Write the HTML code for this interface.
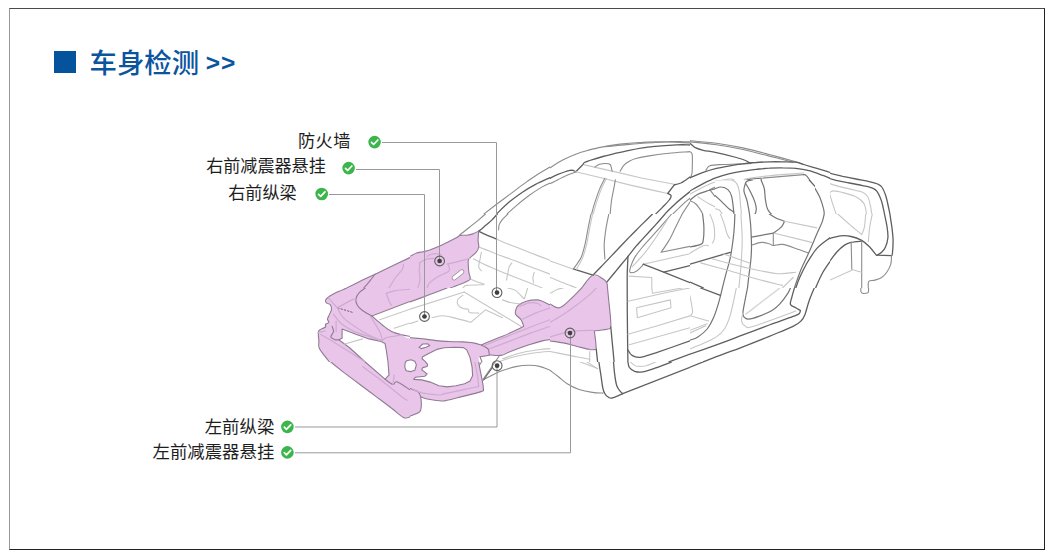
<!DOCTYPE html>
<html lang="zh-CN">
<head>
<meta charset="utf-8">
<title>车身检测</title>
<style>
html,body{margin:0;padding:0;background:#fff;}
body{width:1059px;height:560px;overflow:hidden;position:relative;font-family:"Liberation Sans","Noto Sans CJK SC",sans-serif;}
#frame{position:absolute;left:9px;top:8px;width:1034px;height:540px;border-top:1px solid #4a4a4a;border-left:1px solid #989898;border-right:1px solid #222;border-bottom:1px solid #222;}
#sq{position:absolute;left:54px;top:51px;width:22px;height:22px;background:#05539d;}
#title{position:absolute;left:89.5px;top:44px;height:40px;line-height:40px;font-size:27.4px;color:#0a559e;white-space:nowrap;font-weight:500;}
#gt{font-weight:700;font-size:24.5px;letter-spacing:1px;position:relative;left:-1px;top:-2.5px;}
svg{position:absolute;left:0;top:0;}
.lbl{font-size:17px;fill:#1e1e1e;font-family:"Liberation Sans","Noto Sans CJK SC",sans-serif;}
.con{fill:none;stroke:#999;stroke-width:1;}
.d{fill:none;stroke:#5e5e5e;stroke-width:1.3;stroke-linecap:round;stroke-linejoin:round;}
.n{fill:none;stroke:#747474;stroke-width:1.2;stroke-linecap:round;stroke-linejoin:round;}
.m{fill:none;stroke:#8c8c8c;stroke-width:1.1;stroke-linecap:round;stroke-linejoin:round;}
.l{fill:none;stroke:#c6c6c6;stroke-width:1.1;stroke-linecap:round;stroke-linejoin:round;}
.pk{fill:#e9c5ea;stroke:none;}
.pl{fill:none;stroke:#cfaad2;stroke-width:1.2;stroke-linecap:round;stroke-linejoin:round;}
.pd{fill:none;stroke:#907a93;stroke-width:1.1;stroke-linecap:round;stroke-linejoin:round;}
</style>
</head>
<body>
<div id="frame"></div>
<div id="sq"></div>
<div id="title">车身检测 <span id="gt">&gt;&gt;</span></div>
<svg width="1059" height="560" viewBox="0 0 1059 560">
<!-- highlighted (pink) structural parts -->
<g id="pink">
<path class="pk" fill-rule="evenodd" d="
M478.7,231.2 L473.5,233.6 466.8,235.2 460.2,235.4 456.3,237.8 443,244.4 429.8,250 423.2,251.7 416.6,253 410,256.8 389,267.5 375.1,274.2 362.5,280.1 346.7,288 336.1,292.6 328.2,297.3 325.5,300.6 326.8,303.2 330.2,304.5 331.5,309.2 329.5,314.4 327.5,319.1 328.8,322.4 325.5,324.4 325.5,327 320.2,329.6 318.3,332.3 318.9,340.9 319.6,348.8 323,355 330.8,362
L344,372.6 359.9,384.5 375.8,396.4 391.6,408.3 403.5,417.5 410,416.6 419.3,412.2 421.2,407 420.8,397 427.2,399 441.7,401 447,400.3 462.9,396.4 476.1,393.1 482.7,391.1 483.6,389.1 482.5,380 480.7,371.4 478.5,357.4 489,355.6
L501.2,355.4 510.5,351.5 529,344.8 542.2,340.9 550,340 563.2,342.9 576.4,346.2 589.7,349.5 596.3,349.5 595.6,340.9 594.3,331 608.2,329 610.8,326.3 610.2,314.4 608.8,301.2 607.5,288 606.8,282.7 602.9,278.8 593,275.1
L581.7,288 569.8,299.9 563,305.5 559.3,307.6 553,306.3 548,304.3 541,301.3 536.9,299.9 526.3,301.2 518.4,305.2 515.8,309.8 515.8,314.4 521,319.7 523.7,326.3 515.8,330.3 502.5,336.3 489.3,341.5 480.7,345.1
L473.2,343 460.3,341.9 438.9,340.8 417.4,339.2 406.7,338.1 402.2,334.9 391.6,331.6 382.4,325 371.6,315.6 410,301.4 429.8,294.4 447,288.2 455,285.6 466.8,281.4 470.2,278.8 468.8,272.2 468.2,261.6 469.5,258.3 476.1,252.3 478.7,247 478.1,240.4 Z
M342.1,329 L355.9,334.3 369.1,338.9 381,341.5 385,343.5 386.3,350.1 388,362 389,375.2 385,379.2 365.2,362 349.3,347.5 338.7,339.8 342.1,338.2 Z
M422.3,356.9 L428.2,353.7 436.7,349.4 444.2,347.8 455,347.3 463.5,347.6 466.7,349.9 470,357.4 472.1,367.1 472.6,375.7 470,381 464.6,383.7 456,385.8 447.4,386.9 438.9,385.8 430.3,382.1 421.7,379.9 413.7,379.4 415.3,377.3 424.9,376.2 427.1,374 423.9,371.4 421.7,369.8 422.8,367.6 427.1,366.5 427.6,364.4 424.9,361.2 422.3,359 Z
M406.7,360.7 L411,359.8 414.8,361.2 416.4,364.9 414.8,370.3 411,371.6 406.2,370.8 404.8,367.1 405.1,362.8 Z
M419,347.3 L422.8,344 427.6,343.7 429.8,345.6 426,347.3 421.2,348.6 Z
"/>
<path class="pd" d="M342.1,329 L355.9,334.3 369.1,338.9 381,341.5 385,343.5 386.3,350.1 388,362 389,375.2 385,379.2 365.2,362 349.3,347.5 338.7,339.8 342.1,338.2 Z"/>
<path class="pd" d="M422.3,356.9 L428.2,353.7 436.7,349.4 444.2,347.8 455,347.3 463.5,347.6 466.7,349.9 470,357.4 472.1,367.1 472.6,375.7 470,381 464.6,383.7 456,385.8 447.4,386.9 438.9,385.8 430.3,382.1 421.7,379.9 413.7,379.4 415.3,377.3 424.9,376.2 427.1,374 423.9,371.4 421.7,369.8 422.8,367.6 427.1,366.5 427.6,364.4 424.9,361.2 422.3,359 Z"/>
<path class="pd" d="M406.7,360.7 L411,359.8 414.8,361.2 416.4,364.9 414.8,370.3 411,371.6 406.2,370.8 404.8,367.1 405.1,362.8 Z"/>
<path class="pd" d="M419,347.3 L422.8,344 427.6,343.7 429.8,345.6 426,347.3 421.2,348.6 Z"/>
</g>
<!-- car body line art -->
<g id="car">
<defs><clipPath id="c1"><rect x="690" y="140" width="140" height="40"/><rect x="690" y="180" width="25" height="34"/><rect x="815" y="180" width="15" height="34"/></clipPath><clipPath id="c2"><rect x="830" y="140" width="140" height="74"/></clipPath><clipPath id="c3"><rect x="550" y="140" width="140" height="74"/></clipPath><clipPath id="c4"><rect x="410" y="140" width="140" height="74"/></clipPath><clipPath id="c5"><rect x="410" y="214" width="140" height="74"/></clipPath><clipPath id="c6"><rect x="550" y="214" width="140" height="74"/></clipPath><clipPath id="c7"><rect x="690" y="214" width="140" height="74"/></clipPath><clipPath id="c8"><rect x="830" y="214" width="140" height="74"/></clipPath><clipPath id="c9"><rect x="830" y="288" width="140" height="74"/></clipPath><clipPath id="c10"><rect x="690" y="288" width="140" height="74"/></clipPath><clipPath id="c11"><rect x="550" y="288" width="140" height="74"/></clipPath><clipPath id="c12"><rect x="410" y="288" width="140" height="74"/></clipPath><clipPath id="c13"><rect x="270" y="288" width="140" height="74"/></clipPath><clipPath id="c14"><rect x="270" y="362" width="140" height="74"/></clipPath><clipPath id="c15"><rect x="410" y="362" width="140" height="74"/></clipPath><clipPath id="c16"><rect x="550" y="362" width="140" height="74"/></clipPath><clipPath id="c17"><rect x="270" y="214" width="140" height="74"/></clipPath><clipPath id="c18"><rect x="690" y="362" width="140" height="74"/></clipPath><clipPath id="c19"><rect x="715" y="180" width="100" height="34"/></clipPath></defs>
<g clip-path="url(#c1)">
<path class="m" d="M690,140.7C694.4,141.1 707.6,142.1 716.4,143.3C725.3,144.5 734.1,146.1 742.9,147.9C751.7,149.8 760.5,152.2 769.3,154.5C778.1,156.9 790,160.2 795.8,161.8C801.5,163.5 802.4,164 803.7,164.5"/>
<path class="m" d="M690,141.9C694.4,142.3 707.6,143.5 716.4,144.8C725.3,146 734.1,147.6 742.9,149.5C751.7,151.4 760.9,154 769.3,156.1C777.7,158.2 789.1,161.2 793.1,162.2"/>
<path class="d" d="M690,143.3C690.9,144 693.1,146.5 695.3,147.7C697.5,148.8 699.7,149.5 703.2,150.3C706.7,151.1 710.9,151.4 716.4,152.6C721.9,153.7 731.4,156.1 736.3,157.5C741.1,158.8 743.1,159.5 745.5,160.5C747.9,161.5 749.9,163 750.8,163.5"/>
<path class="m" d="M705.9,170.4C706.5,169.6 707,166.8 709.8,165.8C712.7,164.8 717.5,164.8 723,164.5C728.6,164.1 738.3,164 742.9,163.8C747.5,163.6 749.5,163.6 750.8,163.5"/>
<path class="m" d="M690,151.9C690.3,152.1 691.2,152.1 691.6,153C692,153.8 692.3,153.8 692.4,157.2C692.4,160.5 692.4,169.5 692,173C691.6,176.6 690.3,177.5 690,178.3"/>
<path class="d" d="M690,177.7C692.2,176.8 698.8,173.9 703.2,172.4C707.6,170.8 712,169.5 716.4,168.4C720.8,167.3 725.3,166.6 729.7,165.8C734.1,165 738.5,164.3 742.9,163.8C747.3,163.2 751.7,162.8 756.1,162.5C760.5,162.1 764.9,161.9 769.3,161.8C773.7,161.7 778.1,161.7 782.5,161.8C786.9,161.9 792.2,161.8 795.8,162.2C799.3,162.7 800.2,163.4 803.7,164.5C807.2,165.5 812.5,167.1 816.9,168.4C821.3,169.7 827.8,171.7 830,172.4"/>
<path class="d" d="M690,190.9C692.2,189.7 698.8,185.8 703.2,183.6C707.6,181.4 712,179.3 716.4,177.7C720.8,176 725.3,174.8 729.7,173.7C734.1,172.6 738.5,171.8 742.9,171.1C747.3,170.3 751.7,169.8 756.1,169.3C760.5,168.9 764.9,168.4 769.3,168.2C773.7,167.9 778.1,167.7 782.5,167.8C786.9,167.8 791.4,167.8 795.8,168.3C800.2,168.8 804.6,169.5 809,170.7C813.4,171.8 818.7,173.9 822.2,175.2C825.7,176.4 828.7,177.8 830,178.3"/>
<path class="l" d="M690,194.2C692.2,193 698.8,189 703.2,186.9C707.6,184.8 712,183 716.4,181.6C720.8,180.3 726.8,179.3 729.7,179C732.5,178.7 732.5,178.7 733.6,179.7C734.7,180.7 735.4,181.9 736.3,184.9C737.2,188 738.3,193.3 738.9,198.2C739.6,203 740,211.3 740.2,213.9"/>
<path class="l" d="M742.2,213.9C742,210.4 741,197.9 740.9,192.9C740.8,187.8 741,185.8 741.6,183.6C742.1,181.4 742.9,180.5 744.2,179.7C745.5,178.8 745.3,179 749.5,178.3C753.7,177.7 760.3,176.6 769.3,175.7C778.4,174.8 798,173.5 803.7,173"/>
<path class="n" d="M744.2,184.9C744.4,184.3 744.6,181.9 745.5,181C746.4,180 747.1,179.7 749.5,179.3C751.9,178.8 758.3,178.5 760.1,178.3C760.3,178.6 760.7,177.7 761.4,179.7C762,181.6 763.3,186.3 764,190.2C764.8,194.2 765.1,199.9 766,203.5C766.9,207 768.3,209.6 769.3,211.4C770.3,213.1 771.5,213.5 772,213.9"/>
<path class="n" d="M744.9,183.6C745.4,185.2 747,189.8 748.2,192.9C749.4,196 751,198.6 752.1,202.1C753.2,205.6 754.3,211.9 754.8,213.9"/>
<path class="m" d="M760.1,178.3L803.7,174.6"/>
<path class="n" d="M803.7,174.6C804.1,174.8 804.8,174 806.3,175.7C807.9,177.4 810.7,181.4 812.9,184.9C815.1,188.5 817.8,192.9 819.6,196.8C821.3,200.8 822.8,205.9 823.5,208.7C824.3,211.6 824.1,213 824.2,213.9"/>
<path class="m" d="M709.8,189.6C710.9,189.1 714.2,187.3 716.4,186.9C718.6,186.6 720.8,186.6 723,187.6C725.3,188.6 727.9,190.5 729.7,192.9C731.4,195.3 733.1,199 733.6,202.1C734.2,205.2 733.1,209.8 733,211.4"/>
<path class="m" d="M709.8,189.6C710.9,191 714,195.4 716.4,198.2C718.9,200.9 721.6,203.9 724.4,206.1C727.1,208.3 731.5,210.5 733,211.4"/>
<path class="m" d="M690,200.8C690.9,201.3 693.5,201.9 695.3,203.5C697.1,205 699.4,208.3 700.6,210.1C701.8,211.8 702.2,213.3 702.6,213.9"/>
<path class="n" d="M690,200.2C691.3,199.2 694.8,195.8 697.9,194.2C701,192.6 705.6,191.4 708.5,190.5C711.4,189.6 714,189.2 715.1,188.9"/>
<path class="l" d="M697.9,196.8C699.7,197.9 705,201.5 708.5,203.5C712,205.4 717.3,207.9 719.1,208.7"/>
</g>
<g clip-path="url(#c2)">
<path class="d" d="M803,163.8C805.3,164.6 811.9,166.9 816.3,168.4C820.7,170 825.1,171.7 829.5,173C833.9,174.4 838.3,175.4 842.7,176.4C847.1,177.3 851.5,178.1 855.9,179C860.3,179.9 865.4,180.8 869.1,181.6C872.9,182.5 876.2,183.3 878.4,184.3C880.6,185.3 881,185.6 882.2,187.5C883.4,189.3 884.8,192.9 885.7,195.5C886.6,198.2 887,200.4 887.7,203.5C888.4,206.5 889.5,212.2 889.9,213.9"/>
<path class="d" d="M770,167.8C772.2,167.7 778.8,167.4 783.2,167.5C787.6,167.6 792,167.7 796.4,168.4C800.8,169.1 805.3,170.4 809.7,171.7C814.1,173 818.5,174.9 822.9,176.4C827.3,177.8 831.7,179.2 836.1,180.3C840.5,181.4 844.9,182.1 849.3,183C853.7,183.8 858.6,184.7 862.5,185.6C866.5,186.5 870.6,187.2 873.1,188.3C875.6,189.3 876.1,190.2 877.3,191.8C878.6,193.5 879.6,196.2 880.4,198.2C881.2,200.1 881.6,200.8 882.2,203.5C882.9,206.1 884.1,212.2 884.5,213.9"/>
<path class="l" d="M808.3,175C810.8,176 818.3,179.2 822.9,181C827.5,182.7 831.7,184.3 836.1,185.6C840.5,186.9 844.9,187.8 849.3,188.9C853.7,190 859.5,190.9 862.5,192.2C865.6,193.5 866.5,194.5 867.8,196.8C869.1,199.2 869.8,203.3 870.5,206.1C871.1,208.9 871.6,212.6 871.8,213.9"/>
<path class="l" d="M829.5,192.9C830.2,192.5 831,190.9 833.5,190.9C835.9,190.9 840.3,191.9 844,192.9C847.8,193.9 852.6,195.1 855.9,196.8C859.2,198.6 862.1,200.6 863.9,203.5C865.6,206.3 866.1,212.2 866.5,213.9"/>
<path class="l" d="M829.5,192.9C829.9,194.4 831,198.6 832.1,202.1C833.2,205.6 835.4,211.9 836.1,213.9"/>
</g>
<g clip-path="url(#c3)">
<path class="m" d="M550,167.8C552.2,166.4 558.8,162.1 563.2,159.8C567.6,157.5 572,155.5 576.4,153.9C580.8,152.2 585.3,151.1 589.7,149.9C594.1,148.7 598.5,147.8 602.9,146.9C607.3,146 611.7,145.2 616.1,144.6C620.5,144 624.9,143.7 629.3,143.3C633.7,142.9 638.1,142.6 642.5,142.4C646.9,142.1 651.4,142 655.8,141.9C660.2,141.7 664.6,141.6 669,141.6C673.4,141.5 678.7,141.5 682.2,141.6C685.7,141.6 688.7,141.8 690,141.9"/>
<path class="m" d="M605.5,146.6C607.3,146.4 612.1,145.9 616.1,145.6C620.1,145.2 624.9,144.7 629.3,144.4C633.7,144 638.1,143.6 642.5,143.3C646.9,143 651.4,142.7 655.8,142.5C660.2,142.3 663.3,141.9 669,142C674.7,142 686.5,142.8 690,142.9"/>
<path class="d" d="M550,178.3C551.3,177.7 555.3,175.5 557.9,174.4C560.6,173.2 563.6,172.2 565.9,171.5C568.2,170.8 570.2,170.1 571.8,170.1C573.5,170.2 575.1,171.5 575.8,171.7L583,164.5C583.3,164.1 583.3,163.1 584.4,162.5C585.5,161.8 586.6,161.5 589.7,160.5C592.7,159.5 598.5,157.7 602.9,156.5C607.3,155.3 611.7,154.3 616.1,153.2C620.5,152.2 624.9,151.2 629.3,150.3C633.7,149.4 638.1,148.6 642.5,147.9C646.9,147.3 651.4,146.8 655.8,146.3C660.2,145.9 664.6,145.6 669,145.3C673.4,145 678.7,144.7 682.2,144.6C685.7,144.6 688.7,145 690,145"/>
<path class="m" d="M550,183.6C551.3,183 555.3,181 557.9,179.7C560.6,178.3 563.2,176.8 565.9,175.7C568.5,174.5 572,173.4 573.8,172.8C575.6,172.2 576,172.1 576.4,172"/>
<path class="l" d="M575.8,171.7L602.9,178.3 629.3,184.9 655.8,190.9 667.7,193.5"/>
<path class="l" d="M584.4,164.9L612.1,171.1 642.5,178.3 674.3,184.3"/>
<path class="m" d="M594.9,167.1C595.6,166.7 597.2,165.1 598.9,164.5C600.7,163.9 603.7,163.5 605.5,163.5C607.4,163.5 609.2,163.6 610.2,164.5C611.1,165.3 611.1,167.3 611.5,168.4C611.8,169.5 612,170.6 612.1,171.1"/>
<path class="m" d="M604.9,178.3C604.1,179.9 601.7,184.3 600.2,187.6C598.8,190.9 597.5,194.6 596.3,198.2C595.1,201.7 593.7,206.1 593,208.7C592.2,211.4 591.9,213 591.6,213.9"/>
<path class="l" d="M606.4,178.6C605.7,180.1 603.3,184.6 601.8,187.9C600.4,191.2 599.1,194.9 597.9,198.4C596.6,202 595.3,206.4 594.6,209C593.8,211.6 593.4,213.1 593.2,213.9"/>
<path class="m" d="M615.4,179.7C615.1,181.4 614.1,186.7 613.5,190.2C612.8,193.8 612,196.9 611.5,200.8C610.9,204.8 610.4,211.7 610.2,213.9"/>
<path class="m" d="M620.1,171.1C620.7,170.1 622.5,166.8 624,165.1C625.6,163.5 627.3,162.3 629.3,161.2C631.3,160.1 632.6,159.4 635.9,158.5C639.2,157.6 643.6,156.7 649.1,155.9C654.7,155 662.2,153.9 669,153.2C675.8,152.5 686.5,151.9 690,151.6"/>
<path class="d" d="M674.3,184.9L667.7,193.5C668.2,193.9 670.6,194.5 671,195.5C671.3,196.5 671.1,197.5 669.6,199.5C668.2,201.5 664.7,205 662.4,207.4C660.1,209.8 656.9,212.8 655.8,213.9"/>
<path class="d" d="M674.3,184.9C675.4,184.6 678.9,183.8 680.9,183C682.9,182.1 684.6,180.7 686.2,179.7C687.7,178.7 689.4,177.5 690,177"/>
<path class="d" d="M665,213.9C666.8,212.2 671.4,207.2 675.6,203.5C679.8,199.7 687.6,193.5 690,191.6"/>
<path class="m" d="M672.9,213.9C674.5,212.4 679.4,207.4 682.2,204.8C685,202.2 688.7,199.3 690,198.2"/>
<path class="m" d="M682.2,213.9L690,202.1"/>
</g>
<g clip-path="url(#c4)">
<path class="m" d="M484,213.9C486,212.4 491.7,208 495.9,204.8C500.1,201.6 504.7,198.2 509.1,194.9C513.6,191.6 518,188.1 522.4,184.9C526.8,181.8 531,178.7 535.6,175.7C540.2,172.7 547.6,168.5 550,167.1"/>
<path class="d" d="M496.6,213.9C498.7,211.9 504.9,205.7 509.1,202.1C513.4,198.5 518,195.2 522.4,192.2C526.8,189.2 531,186.7 535.6,184.3C540.2,181.9 547.6,178.8 550,177.7"/>
<path class="m" d="M507.2,213.9C508.6,212.6 512.1,209.2 515.8,206.1C519.4,203 524.6,198.7 529,195.5C533.4,192.3 538.7,189 542.2,186.9C545.7,184.8 548.7,183.6 550,183"/>
</g>
<g clip-path="url(#c5)">
<path class="m" d="M459.6,235.2C461.2,233.8 466.3,229.8 469.5,227.2C472.7,224.7 476.1,222.2 478.7,219.9C481.4,217.7 484.3,215 485.4,214"/>
<path class="d" d="M478.7,231.2C480.1,230.1 484.5,226.4 486.7,224.6C488.9,222.7 490.2,221.7 492,219.9C493.7,218.2 496.4,215 497.3,214"/>
<path class="m" d="M498.6,229.9C498.7,229 498.6,226.3 499.2,224.6C499.9,222.8 501.1,221.1 502.5,219.3C504,217.5 506.9,214.9 507.8,214"/>
<path class="d" d="M478.7,231.2C479.6,231.6 481.1,232.5 484,233.8C487,235.2 494.5,238.2 496.6,239.1"/>
<path class="l" d="M496.6,239.1C498,239.8 502,241.8 505.2,243.1C508.4,244.4 511.8,245.5 515.8,247C519.7,248.6 523.3,250.1 529,252.3C534.7,254.5 546.5,258.9 550,260.3"/>
<path class="l" d="M478.7,247C480.5,247.7 485.4,249.5 489.3,251C493.3,252.6 498.1,254.7 502.5,256.3C506.9,258 511.4,259.3 515.8,260.9C520.2,262.6 523.3,264 529,266.2C534.7,268.4 546.5,272.8 550,274.2"/>
<path class="l" d="M481.4,252.3C481.2,253.4 480.5,256.5 480.1,258.9C479.6,261.4 478.5,264.9 478.7,266.9C479,268.9 480.9,270.2 481.4,270.8"/>
<path class="l" d="M511.8,262.9C511.4,263.6 509.8,265.1 509.1,266.9C508.5,268.6 508.3,271.3 507.8,273.5C507.4,275.7 506.7,279 506.5,280.1"/>
<path class="l" d="M534.3,272.2C534,273 533.1,275.7 532.9,277.5C532.8,279.2 533.5,281.9 533.6,282.7"/>
<path class="l" d="M473.5,258.9C475.2,259.8 479.2,262 484,264.2C488.9,266.4 497.3,270 502.5,272.2C507.8,274.4 509.1,274.8 515.8,277.5C522.4,280.1 537.8,286.2 542.2,287.9"/>
<path class="l" d="M469.5,278.8C470.6,279.2 473.7,280.5 476.1,281.4C478.5,282.3 482.7,283.6 484,284.1"/>
<path class="l" d="M462.9,287.9C463.5,287.5 463.3,285.9 466.8,285.4C470.4,284.9 481.2,284.8 484,284.7"/>
<path class="pd" d="M478.7,231.2C477.9,231.6 475.4,232.9 473.5,233.6C471.5,234.2 469,234.8 466.8,235.2C464.6,235.5 462,235 460.2,235.4C458.5,235.9 459.1,236.3 456.3,237.8C453.4,239.3 447.5,242.4 443,244.4C438.6,246.4 433.1,248.7 429.8,250C426.5,251.2 425.4,251.2 423.2,251.7C421,252.2 418.8,252.2 416.6,253C414.4,253.8 411.1,255.8 410,256.3"/>
<path class="pd" d="M478.7,231.2C478.6,232.7 478.1,237.8 478.1,240.4C478.1,243.1 479.1,245.1 478.7,247C478.4,249 477.6,250.5 476.1,252.3C474.6,254.2 470.8,256.7 469.5,258.3C468.2,259.8 468.3,259.3 468.2,261.6C468.1,263.9 468.5,269.3 468.8,272.2C469.2,275 470.5,277.2 470.2,278.8C469.8,280.3 469.6,280.1 466.8,281.4C464.1,282.7 458.7,284.7 453.6,286.7C448.6,288.7 439.3,292.2 436.4,293.3"/>
<path class="pl" d="M427.2,256.3C427.8,256 429.6,254.8 431.2,254.3C432.7,253.9 434.7,253.5 436.4,253.7C438.2,253.8 440.8,254.8 441.7,255"/>
<path class="pl" d="M419.3,262.9C420.6,262.3 424.8,259.7 427.2,258.9C429.6,258.2 432.7,258.4 433.8,258.3"/>
<path class="pl" d="M419.9,263.6C419.8,264.6 419.3,266.8 419.3,269.5C419.3,272.3 420.1,277 419.9,280.1C419.7,283.2 418.3,286.6 417.9,287.9"/>
<path class="pl" d="M447,264.2C450.1,263.5 461.8,260.6 465.5,259.6C469.3,258.6 468.8,258.5 469.5,258.3"/>
<path class="pl" d="M448.3,264.9C448.4,265.9 450.5,269 449,270.8C447.5,272.7 442.3,274.2 439.1,276.1C435.9,278.1 431.8,280.8 429.8,282.7C427.8,284.7 427.6,287 427.2,287.9"/>
<path d="M454.2,277.9 L461.8,271.9" stroke="#9a879c" stroke-width="5" stroke-linecap="round" fill="none"/><path d="M454.2,277.9 L461.8,271.9" stroke="#fff" stroke-width="3.4" stroke-linecap="round" fill="none"/>
</g>
<g clip-path="url(#c6)">
<path class="d" d="M593,275.1C594.6,273.4 599,268.9 602.9,264.9C606.7,260.9 611.7,255.6 616.1,251C620.5,246.4 624.9,241.7 629.3,237.1C633.7,232.6 638.7,227.8 642.5,223.9C646.4,220.1 650.8,215.7 652.5,214"/>
<path class="d" d="M606.8,282.1C608.4,280.2 612.6,275.1 616.1,270.8C619.6,266.5 624.7,260.4 628,256.3C631.3,252.2 633.5,249.3 635.9,246.4C638.4,243.5 639.2,242.8 642.5,239.1C645.8,235.5 652,228.8 655.8,224.6C659.5,220.4 663.5,215.8 665,214"/>
<path class="d" d="M628,256.3C627.9,258.1 627.6,263.4 627.5,266.9C627.3,270.4 627.2,274 627.2,277.5C627.2,281 627.2,286.2 627.2,287.9"/>
<path class="m" d="M671.6,214C670.1,215.8 665.5,221.1 662.4,224.6C659.3,228.1 656.4,231.4 653.1,235.2C649.8,238.9 645.6,243.3 642.5,247C639.5,250.8 636.6,254.3 634.6,257.6C632.6,260.9 631.4,264.5 630.6,266.9C629.9,269.3 629.1,271.4 630,272.2C630.9,272.9 634.1,272.4 635.9,271.5C637.8,270.6 640,268.1 641.2,266.9C642.4,265.7 642.9,264.7 643.2,264.2"/>
<path class="l" d="M667.7,219.3C665.7,222.4 659.5,232.3 655.8,237.8C652,243.3 648.5,248.2 645.2,252.3C641.9,256.5 638.1,260.5 635.9,262.9C633.7,265.3 632.6,266.2 632,266.9"/>
<path class="m" d="M682.2,214C681.1,216.2 677.8,222.8 675.6,227.2C673.4,231.6 671.4,236.3 669,240.4C666.6,244.6 662.4,250.4 661,252.3L690,246.4"/>
<path class="l" d="M643.2,264.2L690,253.7"/>
<path class="d" d="M643.2,264.2L663.7,272.2 690,282.7"/>
<path class="d" d="M663.7,272.2L690,265.6"/>
<path class="d" d="M573.1,268.9L593,275.1"/>
<path class="l" d="M573.1,268.9L550,260.9"/>
<path class="m" d="M591,214C590.5,216.2 589.3,222.2 588.3,227.2C587.3,232.3 586.2,239.3 585,244.4C583.8,249.5 582.9,253.6 581.1,257.6C579.2,261.6 575,266.7 573.8,268.5"/>
<path class="l" d="M592.6,214C592.1,216.2 590.9,222.2 589.9,227.2C588.9,232.3 587.8,239.3 586.6,244.4C585.4,249.5 584.3,253.5 582.7,257.6C581,261.8 577.5,267.3 576.4,269.3"/>
<path class="m" d="M608.8,214C608.4,216.2 607,222.2 606.2,227.2C605.4,232.3 604.4,239.1 604.2,244.4C604,249.7 604.8,256.5 604.9,258.9"/>
<path class="l" d="M629.3,276.1L651.8,277.5L651.8,287.9"/>
<path class="l" d="M550,277.5C552.2,278.3 558.8,281 563.2,282.7C567.6,284.5 574.2,287 576.4,287.9"/>
<path class="pd" d="M581.7,287.9C583.6,285.8 589.4,276.6 593,275.1C596.5,273.6 600.6,277.5 602.9,278.8C605.2,280.1 606.1,281.2 606.8,282.7C607.6,284.3 607.4,287 607.5,287.9"/>
</g>
<g clip-path="url(#c7)">
<path class="n" d="M702.6,214C702.8,216.2 703.8,222.8 703.9,227.2C704,231.6 703.8,237.6 703.2,240.4C702.7,243.3 702.8,243.3 700.6,244.4C698.4,245.5 691.8,246.6 690,247"/>
<path class="l" d="M709.8,214C710.5,215.8 713,220.6 713.8,224.6C714.6,228.5 714.7,234.7 714.5,237.8C714.2,240.9 712.8,242.2 712.5,243.1"/>
<path class="l" d="M720.4,214C721.1,215.8 723.3,221.3 724.4,224.6C725.5,227.9 726.1,231.5 727,233.8C727.9,236.1 729.2,237.7 729.7,238.5"/>
<path class="l" d="M690,253C692.2,251.8 700.1,246.9 703.2,245.7C706.3,244.5 707.6,245.7 708.5,245.7"/>
<path class="n" d="M734.9,214C734.8,216.2 734.6,222.8 734.3,227.2C734,231.6 733.6,235.4 733,240.4C732.3,245.5 731.5,251.9 730.3,257.6C729.1,263.4 727,269.8 725.7,274.8C724.4,279.9 722.9,285.7 722.4,287.9"/>
<path class="n" d="M749.5,214C749.7,216.2 750.5,221.7 750.8,227.2C751.1,232.7 751.5,241.5 751.5,247C751.5,252.6 751.3,255.4 750.8,260.3C750.4,265.1 749.4,271.5 748.8,276.1C748.3,280.7 747.7,285.9 747.5,287.9"/>
<path class="l" d="M740.9,214C741.1,218.4 742.2,231.6 742.2,240.4C742.2,249.3 741.4,259 740.9,266.9C740.3,274.8 739.2,284.4 738.9,287.9"/>
<path class="d" d="M690,264.2L730.3,252.3"/>
<path class="n" d="M769.3,214C770.4,214.7 773.4,216.8 775.9,218C778.5,219.2 783.1,220.7 784.5,221.3C784,222.3 783.1,225.2 781.2,227.2C779.3,229.2 774.6,232.2 773.3,233.2L751.5,237.1"/>
<path class="m" d="M773.3,233.2L773.3,245.1"/>
<path class="m" d="M752.1,245.1C753.7,244.6 758.5,242.6 761.4,242.4C764.3,242.2 767.3,243.2 769.3,243.7C771.3,244.3 771.1,245.4 773.3,245.5C775.5,245.6 778.8,243.9 782.5,244.4C786.3,244.9 791.5,246.9 795.8,248.4C800.1,249.8 806.2,252.2 808.3,253"/>
<path class="l" d="M784.5,221.3L816.9,227.9"/>
<path class="l" d="M774.6,233.2L811.6,242.4"/>
<path class="n" d="M824.2,214C823.9,215.3 823.4,218.6 822.2,221.9C821,225.2 819.1,228.8 816.9,233.8C814.7,238.9 811.6,246.4 809,252.3C806.3,258.3 803.5,263.6 801,269.5C798.6,275.5 795.5,284.8 794.4,287.9"/>
<path class="d" d="M830,237.8C827.8,239.6 820.9,244 816.9,248.4C813,252.8 809.2,259.4 806.3,264.2C803.5,269.1 801.5,273.5 799.7,277.5C798,281.4 796.4,286.2 795.8,287.9"/>
<path class="d" d="M830,261.6C828.7,263.6 824.6,269.1 822.2,273.5C819.8,277.9 816.7,285.5 815.6,287.9"/>
<path class="l" d="M700.6,262.9C705.4,264.2 720.4,268.2 729.7,270.8C738.9,273.5 747.3,276.4 756.1,278.8C764.9,281.2 778.1,284.3 782.5,285.4"/>
<path class="l" d="M712.5,258.9C717.5,260.3 732.3,264.5 742.9,266.9C753.5,269.3 767.1,272.6 775.9,273.5C784.7,274.4 792.5,272.4 795.8,272.2"/>
<path class="l" d="M723,253.7L749.5,262.9"/>
<path class="d" d="M690,282.1L703.2,287.9"/>
<path class="l" d="M782.5,287.9L793.1,277.5"/>
</g>
<g clip-path="url(#c8)">
<path class="d" d="M889.9,214C890.2,216.2 891.3,222.8 891.9,227.2C892.4,231.6 893,236 893.1,240.4C893.1,244.8 892.7,251.1 892.4,253.7C892.1,256.2 891.6,255.3 891.5,255.6"/>
<path class="d" d="M884.5,214C884.9,216.2 886.5,223.3 887.1,227.2C887.7,231.2 888.2,234.5 887.9,237.8C887.6,241.1 886.6,244.6 885.5,247C884.5,249.5 883,251 881.6,252.3C880.1,253.7 877.7,254.8 876.9,255.2"/>
<path class="d" d="M830,238.5C831.8,238 837.1,236.1 840.6,235.8C844.1,235.5 847.6,235.7 851.2,236.5C854.7,237.2 858.6,238.7 861.7,240.4C864.8,242.2 867.2,244.6 869.7,247C872.1,249.5 875.2,253.9 876.3,255.2L891.5,255.6"/>
<path class="d" d="M830,260.9C831.1,259.5 834.2,255 836.6,252.3C839,249.7 842.1,246.7 844.5,245.1C847,243.4 848.3,243.1 851.2,242.4C854,241.8 860,241.3 861.7,241.1"/>
<path class="m" d="M851.2,242.4L851.8,269.5"/>
<path class="m" d="M861.7,241.1L861.7,287.9"/>
<path class="l" d="M851.8,269.5L861.7,272.2"/>
<path class="l" d="M830,280.1L851.8,270.2"/>
<path class="m" d="M891.5,255.6C891.4,257.1 891.6,261.5 890.8,264.2C890,267 888.4,270 886.8,272.2C885.3,274.4 883.5,276.1 881.6,277.5C879.6,278.8 876.9,279.5 874.9,280.1C873,280.7 870.8,280.3 869.7,280.8C868.6,281.2 868.6,281.6 868.3,282.7C868.1,283.9 868.3,287 868.3,287.9"/>
<path class="l" d="M837.9,214C839.9,215.8 845.9,221.2 849.8,224.6C853.8,228 859.7,232.8 861.7,234.5C862.2,233.3 863.7,230.6 864.4,227.2C865,223.8 865.5,216.2 865.7,214"/>
<path class="l" d="M872.3,214C871.9,216.2 870.3,222.6 869.7,227.2C869,231.8 868.6,239.3 868.3,241.8"/>
</g>
<g clip-path="url(#c9)">
<path class="m" d="M860.9,288C860.9,288.6 860.7,290.8 860.9,291.7C861.2,292.6 861.5,293.1 862.5,293.3C863.6,293.5 866.3,293.3 867.3,293C868.3,292.7 868.3,292.3 868.5,291.4C868.7,290.6 868.5,288.6 868.5,288"/>
</g>
<g clip-path="url(#c10)">
<path class="n" d="M722.4,288C721.8,290.2 720.5,296.4 719.1,301.2C717.7,306.1 715.8,312.5 713.8,317.1C711.8,321.7 709.8,325.7 707.2,329C704.5,332.3 700.8,335 697.9,336.9C695.1,338.8 691.3,339.7 690,340.2"/>
<path class="d" d="M700.6,288L720.4,295.3"/>
<path class="n" d="M747.5,288C747.1,290.2 745.6,297 744.9,301.2C744.1,305.4 743,310.5 742.9,313.1C742.8,315.8 743.3,316.1 744.2,317.1C745.1,318.1 745.7,319.2 748.2,319.1C750.6,319 754.8,317.9 758.7,316.4C762.7,315 768.4,312.6 772,310.5C775.5,308.4 777.3,306.7 779.9,303.9C782.5,301 786.1,295.9 787.8,293.3C789.6,290.6 790,288.9 790.5,288"/>
<path class="l" d="M742.9,313.1C742.7,314.4 741.1,318.8 741.6,321C742,323.3 743.5,325.5 745.5,326.3C747.5,327.2 745.1,328.9 753.5,326.3C761.8,323.8 788.7,313.7 795.8,311.1"/>
<path class="d" d="M794.4,288C794,289.5 792.5,294.5 791.8,297.3C791.1,300 789.8,302.8 790.5,304.5C791.1,306.3 794.1,306.8 795.8,307.8C797.4,308.8 799.6,310 800.4,310.5C800.2,311 800.3,312.8 799.1,313.8C797.9,314.8 798.1,314.6 793.1,316.4C788.2,318.3 777.7,321.9 769.3,325C760.9,328.1 751.7,331.6 742.9,334.9C734.1,338.2 725.3,341.7 716.4,344.8C707.6,348 694.4,352.6 690,354.1"/>
<path class="d" d="M814.3,288C813.4,290.2 810.5,296.8 809,301.2C807.4,305.6 806.3,311.1 805,314.4C803.7,317.7 803,319.1 801,321C799.1,323 798.4,323.8 793.1,326.3C787.8,328.9 777.7,332.8 769.3,336.3C760.9,339.7 751.7,343.4 742.9,346.8C734.1,350.2 723,354.2 716.4,356.7C709.8,359.3 705.4,361 703.2,361.9"/>
<path class="l" d="M736.3,288C735.8,290.2 734.7,296.4 733.6,301.2C732.5,306.1 731.2,312.5 729.7,317.1C728.1,321.7 726.6,325.7 724.4,329C722.2,332.3 720,334.5 716.4,336.9C712.9,339.3 707.6,341.5 703.2,343.5C698.8,345.5 692.2,347.9 690,348.8"/>
<path d="M745.5,314.4 L779.9,288" stroke="#d6d6d6" stroke-width="1.4" fill="none"/>
<path class="l" d="M690,295.9C690.4,298.6 692.6,308.5 692.6,311.8C692.6,315.1 690.4,315.1 690,315.8"/>
<path class="l" d="M690,315.8L708.5,321"/>
<path class="l" d="M690,330.3L707.2,323.7"/>
<path class="l" d="M690,332.9L705.9,325.7"/>
</g>
<g clip-path="url(#c11)">
<path class="pd" d="M581.7,288C579.7,290 573.6,296.6 569.8,299.9C566.1,303.2 562.6,307.2 559.3,307.8C555.9,308.5 551.5,304.5 550,303.9"/>
<path class="pd" d="M607.5,288C607.7,290.2 608.4,296.8 608.8,301.2C609.3,305.6 609.8,310.3 610.2,314.4C610.5,318.6 611.1,323.9 610.8,326.3C610.5,328.8 610.9,328.2 608.2,329C605.4,329.8 596.6,330.6 594.3,331C594.5,332.6 595.3,337.8 595.6,340.9C595.9,344 596.2,348 596.3,349.5C595.2,349.5 593,350 589.7,349.5C586.4,348.9 580.8,347.3 576.4,346.2C572,345.1 567.6,343.7 563.2,342.9C558.8,342 552.2,341.2 550,340.9"/>
<path class="pl" d="M550,322.4C552.2,321 558.8,317.3 563.2,314.4C567.6,311.6 572,308.5 576.4,305.2C580.8,301.9 586.4,297.5 589.7,294.6C593,291.7 595.2,289.1 596.3,288"/>
<path class="pl" d="M550,336.9C553.3,336 562.6,332.7 569.8,331.6C577.1,330.5 589.7,330.5 593.6,330.3"/>
<path class="d" d="M596.3,349.5L597.6,361.9"/>
<path class="d" d="M610.8,327L612.1,340.9 614.1,361.9"/>
<path class="d" d="M627.2,288L627.3,314.4 627.6,340.9 627.9,361.9"/>
<path class="l" d="M628,301.2L669,292 690,288"/>
<path class="l" d="M636.6,307.8L670.3,299.9 671,307.8 637.3,317.7 636.6,307.8"/>
<path class="l" d="M628,334.3L655.8,326.3 690,315.8"/>
<path class="l" d="M629.3,344.8L690,327.7"/>
<path class="d" d="M628,350.1C628.7,351 630,354.2 632,355.4C633.9,356.6 635.9,357.8 639.9,357.4C643.9,357 647.4,355.5 655.8,352.8C664.1,350 684.3,342.9 690,340.9"/>
<path class="l" d="M651.8,288L652.5,293.3 682.2,288"/>
<path class="d" d="M669,361.9L690,354.1"/>
<path class="l" d="M550,351.5C552.2,351.9 558.8,353.2 563.2,354.1C567.6,355 572,355.9 576.4,356.7C580.8,357.6 587.5,358.9 589.7,359.4"/>
<path class="l" d="M589.7,351.5L589.7,361.9"/>
<path class="l" d="M550,293.3C551.3,292.6 555.7,290.2 557.9,289.3C560.1,288.4 562.3,288.2 563.2,288"/>
</g>
<g clip-path="url(#c12)">
<path class="pd" d="M447,288C444.2,289.1 436,292.3 429.8,294.6C423.7,296.9 413.3,300.7 410,301.9"/>
<path class="pd" d="M550,304.9C548.7,304.3 544.4,302.1 542.2,301.2C540,300.4 539.6,299.9 536.9,299.9C534.3,299.9 529.4,300.3 526.3,301.2C523.3,302.1 520.2,303.8 518.4,305.2C516.6,306.6 516.2,308.3 515.8,309.8C515.3,311.4 514.9,312.8 515.8,314.4C516.6,316.1 519.7,317.7 521,319.7C522.4,321.7 523.3,325.2 523.7,326.3C522.4,327 519.3,328.7 515.8,330.3C512.2,332 506.9,334.4 502.5,336.3C498.1,338.1 492.8,340.1 489.3,341.5C485.8,343 482.7,344.5 481.4,345.1"/>
<path class="pd" d="M410,337.6C412.2,337.8 418.8,338.4 423.2,338.9C427.6,339.4 432,340.2 436.4,340.6C440.8,341.1 445.3,341.3 449.7,341.5C454.1,341.8 458.9,341.7 462.9,341.9C466.8,342.2 470.4,342.3 473.5,342.9C476.5,343.4 480.1,344.7 481.4,345.1C482.5,345.7 486.7,347.2 488,348.8C489.3,350.4 489.1,353.8 489.3,354.8C491.3,354.9 497.7,356 501.2,355.4C504.7,354.9 505.8,353.2 510.5,351.5C515.1,349.7 523.7,346.6 529,344.8C534.3,343.1 538.7,341.8 542.2,340.9C545.7,340 548.7,339.8 550,339.6"/>
<path class="pl" d="M489.3,348.8C492.8,347.5 503.9,343.4 510.5,340.9C517.1,338.3 522.4,336 529,333.6C535.6,331.2 546.5,327.5 550,326.3"/>
<path class="pl" d="M482.7,346.2C486,344.8 494.8,341.3 502.5,338.2C510.3,335.2 521.1,330.7 529,327.7C536.9,324.6 546.5,321 550,319.7"/>
<path class="pl" d="M522.4,319.1C524.6,318.1 531,315 535.6,313.1C540.2,311.2 547.6,308.7 550,307.8"/>
<path class="pl" d="M519.7,306.5C521.3,305.9 526.1,303.4 529,302.8C531.8,302.3 534.9,302.7 536.9,303.2C538.9,303.7 540.2,305.4 540.9,305.8"/>
<path class="pd" d="M480.1,356.7L482,361.9"/>
<path class="pd" d="M480.1,356.7L489.3,355.2"/>
<path class="l" d="M410,309.2L464.2,292"/>
<path class="l" d="M464.2,292L521,326.3"/>
<path class="l" d="M431.8,317.7C433.7,317.4 439,315.7 443,315.8C447.1,315.9 451.6,317.3 456.3,318.4C460.9,319.5 468.4,321.7 470.8,322.4L485.4,309.8L502.5,317.7"/>
<path class="l" d="M462.9,295.3C462,296 458.4,298.2 457.6,299.9C456.8,301.6 457.4,303.8 458.3,305.2C459.1,306.6 461.2,307.8 462.9,308.5C464.5,309.2 467.1,308.5 468.2,309.2C469.3,309.8 467.7,311.8 469.5,312.5C471.3,313.1 477.2,313 478.7,313.1"/>
<path class="l" d="M502.5,299.9C503.9,300.3 507.6,301.9 510.5,302.5C513.3,303.2 518.2,303.6 519.7,303.9"/>
<path class="l" d="M527.7,288L524.4,298.6"/>
<path class="l" d="M507.8,288C509.1,288.4 513.1,288.9 515.8,290.6C518.4,292.4 522.4,297.3 523.7,298.6"/>
<path class="l" d="M410,323.7L417.9,321"/>
</g>
<g clip-path="url(#c13)">
<path class="pd" d="M346.7,288C344.9,288.8 339.2,291.1 336.1,292.6C333,294.2 329.9,295.9 328.2,297.3C326.4,298.6 325.7,299.6 325.5,300.6C325.3,301.6 326.1,302.5 326.8,303.2C327.6,303.9 329.4,303.5 330.2,304.5C330.9,305.5 331.6,307.5 331.5,309.2C331.4,310.8 330.2,312.8 329.5,314.4C328.8,316.1 327.6,317.7 327.5,319.1C327.4,320.4 329.2,321.5 328.8,322.4C328.5,323.3 326.1,323.6 325.5,324.4C325,325.1 326.4,326.1 325.5,327C324.6,327.9 321.4,328.8 320.2,329.6C319,330.5 318.5,330.4 318.3,332.3C318,334.2 318.7,338.1 318.9,340.9C319.1,343.6 317.8,345.3 319.6,348.8C321.3,352.3 327.8,359.7 329.5,361.9"/>
<path class="pd" d="M332.1,326.3C332.4,327.2 333.7,329.9 333.5,331.6C333.2,333.4 330.6,335.6 330.8,336.9C331,338.2 333.5,339.1 334.8,339.6C336.1,340 338.1,339.8 338.7,339.8"/>
<path class="pl" d="M336.1,321L336.1,331.6"/>
<path class="pd" d="M365.2,288C364.1,288.9 360.1,291.4 358.6,293.3C357,295.2 356.2,297.3 355.9,299.2C355.7,301.2 356.2,303.3 357.3,305.2C358.4,307.1 360.1,308.7 362.5,310.5C365,312.3 370.3,315.1 371.8,316C373.6,317.5 379.1,322.4 382.4,325C385.7,327.6 388.3,330 391.6,331.6C394.9,333.3 399.1,334.2 402.2,334.9C405.3,335.7 408.7,336 410,336.3"/>
<path class="pd" d="M371.8,316L410,301.4"/>
<path class="pl" d="M386.3,293.3C386.8,294.6 388.1,299.2 389,301.2C389.9,303.2 391.2,304.5 391.6,305.2"/>
<path class="pl" d="M386.3,293.3C387.9,292.8 391.6,291.3 395.6,290.6C399.5,290 407.6,289.5 410,289.3"/>
<path d="M337.4,307.8 L353.3,312.6" stroke="#6e5f70" stroke-width="1" stroke-dasharray="2.2,1.2" fill="none"/>
<path class="pl" d="M328.2,297.9L337.4,307.8"/>
<path class="pl" d="M337.4,307.8C339.8,306.5 348.9,301.3 352,299.9C355,298.5 355.3,299.3 355.9,299.2"/>
<path class="pl" d="M337.4,307.8C338.5,309.6 339.8,314.4 344,318.4C348.2,322.4 357.3,328.3 362.5,331.6C367.8,334.9 372.5,336.7 375.8,338.2C379.1,339.8 381.3,340.4 382.4,340.9"/>
<path class="pl" d="M333.5,314.4C334.8,316 337.9,320.8 341.4,323.7C344.9,326.6 349.8,329.4 354.6,331.6C359.5,333.8 365.8,335.4 370.5,336.9C375.1,338.5 380.4,340.2 382.4,340.9"/>
<path class="pl" d="M370.5,316.4C372,319 377.7,327.5 379.7,331.6C381.7,335.7 381.9,339.3 382.4,340.9"/>
<path class="pl" d="M382.4,340.9C383,340.3 383,338.6 386.3,337.6C389.6,336.6 399.6,335.4 402.2,334.9"/>
<path class="l" d="M379.7,319.7L410,309.2"/>
<path class="l" d="M394.3,328.3L410,323"/>
<path class="l" d="M344,344.2L362.5,338.9"/>
<path class="pl" d="M320.2,334.3C322.9,335.8 328.6,338.9 336.1,343.5C343.6,348.1 360.3,358.8 365.2,361.9"/>
<path class="pl" d="M318.3,332.3L325.5,331"/>
</g>
<g clip-path="url(#c14)">
<path class="pd" d="M330.8,362C333,363.8 339.2,368.8 344,372.6C348.9,376.3 354.6,380.5 359.9,384.5C365.2,388.4 370.5,392.4 375.8,396.4C381,400.3 387,404.7 391.6,408.3C396.3,411.8 400.5,416.1 403.5,417.5C406.6,419 408.9,417 410,416.9"/>
<path class="pd" d="M385,379.2C386.3,380.1 391,384 392.9,384.5C394.9,384.9 394.1,380.9 396.9,381.8C399.8,382.7 407.8,388.4 410,389.8"/>
<path class="pl" d="M394.3,375.2L392.9,384.5"/>
<path class="pl" d="M362.5,366.6C365.8,369.1 375.8,376.1 382.4,381.2C389,386.2 398,393.8 402.2,397C406.4,400.2 406.6,399.8 407.5,400.3"/>
</g>
<g clip-path="url(#c15)">
<path class="pd" d="M410,416.2C411.5,415.5 417.4,413.8 419.3,412.2C421.1,410.7 421,409.6 421.2,406.9C421.5,404.3 421.1,398.9 420.6,396.4C420,393.8 419.7,393.1 417.9,391.7C416.2,390.4 411.3,389 410,388.4"/>
<path class="pd" d="M421.2,397C422.2,397.4 423.8,398.4 427.2,399C430.6,399.7 438.4,400.8 441.7,401C445,401.2 443.5,401.1 447,400.3C450.5,399.6 458,397.6 462.9,396.4C467.7,395.2 472.8,393.9 476.1,393.1C479.4,392.2 481.5,391.7 482.7,391.1C483.9,390.4 483.5,391.1 483.4,389.1C483.3,387.1 482.6,382.4 482,379.2C481.5,376 480.6,372.8 480.1,369.9C479.5,367.1 479,363.3 478.7,362"/>
<path class="pl" d="M412.6,389.8C414.4,390.3 418.8,392.2 423.2,393.1C427.6,393.9 435.6,394.9 439.1,395C442.6,395.2 440.4,394.6 444.4,393.7C448.3,392.8 457.2,391 462.9,389.8C468.6,388.6 476.1,387 478.7,386.5C478.5,384.6 478.1,379.3 477.4,375.2C476.8,371.1 475.2,364.2 474.8,362"/>
<path class="m" d="M483.4,379.8C484.8,379.1 488.8,376.8 492,375.2C495.2,373.7 498.6,372 502.5,370.6C506.5,369.2 511.4,367.5 515.8,366.6C520.2,365.7 525,365.3 529,365.3C532.9,365.3 536.1,365.5 539.6,366.4C543.1,367.2 548.3,369.7 550,370.3"/>
<path class="d" d="M483.4,379.8L492,367.9"/>
<path class="m" d="M481.4,362L479.4,365.3"/>
</g>
<g clip-path="url(#c16)">
<path class="m" d="M550,370.3C551.3,371.3 555.1,374 557.9,376.3C560.8,378.5 563.7,381.6 567.2,383.8C570.7,386 574.9,388.1 579.1,389.5C583.3,390.9 588.3,391.8 592.3,392.4C596.3,393 601.1,393 602.9,393.1"/>
<path class="d" d="M598.9,362C599.2,364.2 600.2,370.8 600.9,375.2C601.6,379.6 602.2,385.4 602.9,388.4C603.5,391.5 604,392.3 604.9,393.7C605.7,395.2 607,396.3 608.2,397C609.4,397.7 609.7,398.5 612.1,398C614.6,397.4 620.9,394.4 622.7,393.7L690,367.3"/>
<path class="d" d="M613.5,362C613.7,364.2 614.2,371.3 614.8,375.2C615.3,379.2 615.9,383.2 616.8,385.8C617.6,388.4 619.1,389.8 620.1,391.1C621.1,392.4 622.3,393.3 622.7,393.7"/>
<path class="d" d="M628,362C628.2,362.9 628.2,365.7 629.3,367.3C630.4,368.8 632.4,370.5 634.6,371.3C636.8,372 639,372.5 642.5,371.9C646.1,371.4 650.9,369.6 655.8,367.9C660.6,366.3 669,363 671.6,362"/>
<path class="l" d="M630.6,362C631.5,362.7 633.5,365.3 635.9,366C638.4,366.6 641.9,366.6 645.2,366C648.5,365.3 654,362.7 655.8,362"/>
<path class="l" d="M580.4,362L597.6,368.6"/>
<path class="l" d="M587,362L597.6,368.6"/>
</g>
<g clip-path="url(#c17)">
<path class="pd" d="M410,257.6C406.5,259.3 394.8,264.8 389,267.5C383.2,270.3 379.5,272.1 375.1,274.2C370.7,276.2 367.3,277.8 362.5,280.1C357.8,282.4 349.3,286.6 346.7,287.9"/>
<path class="pd" d="M375.1,274.2C374.3,275.1 372.3,277.8 370.5,280.1C368.6,282.4 365,286.6 363.9,287.9"/>
<path class="pl" d="M403.5,264.2C403.3,265.1 403.5,267.3 402.2,269.5C400.9,271.7 397.8,274.4 395.6,277.5C393.4,280.5 390.1,286.2 389,287.9"/>
</g>
<g clip-path="url(#c18)">
<path class="d" d="M690,367.1L758.7,340"/>
</g>
<g clip-path="url(#c19)">
<path class="n" d="M752.5,180C751.6,180.2 748.3,180.5 747.2,181.1C746,181.6 746.1,181.6 745.5,183.2C745,184.8 743.7,187.7 743.9,190.7C744.2,193.8 746.2,197.1 747.2,201.4C748.1,205.7 749.2,212 749.8,216.4C750.5,220.9 750.6,224.8 750.9,228.2C751.2,231.6 751.4,235.4 751.4,236.8"/>
<path class="n" d="M745.5,183.2C746.4,184.6 748.9,188.8 750.4,191.8C751.9,194.8 753.7,198.6 754.7,201.4C755.6,204.3 756.3,206.8 756.3,208.9C756.3,211.1 755.7,213 754.7,214.3C753.6,215.5 750.6,216.1 749.8,216.4"/>
<path class="n" d="M761.1,180C761.6,181.4 763.6,185.4 764.3,188.6C765,191.8 764.8,195.9 765.4,199.3C765.9,202.7 766.3,206.3 767.5,208.9C768.8,211.6 770.9,213.8 772.9,215.4C774.8,217 777.3,217.6 779.3,218.6C781.3,219.6 783.8,220.8 784.7,221.3"/>
<path class="n" d="M715,188.6C716.1,188.3 719.3,186.8 721.4,187C723.6,187.1 726.2,188.1 727.9,189.6C729.6,191.2 730.6,192.3 731.6,196.1C732.6,199.8 733.3,207.7 733.8,212.2C734.2,216.6 734.1,218.2 734.3,222.9C734.5,227.5 734.7,237.1 734.8,239.9"/>
<path class="n" d="M715,195.5C716.1,196.5 719.3,199.4 721.4,201.4C723.6,203.5 725.8,206.1 727.9,207.9C729.9,209.7 732.8,211.4 733.8,212.2"/>
<path class="l" d="M715,180C717.7,180 727.5,179.5 731.1,180C734.6,180.5 735.1,181.4 736.4,183.2C737.8,185 738.4,186.8 739.1,190.7C739.8,194.6 740.2,201.4 740.7,206.8C741.3,212.2 741.9,217.4 742.3,222.9C742.8,228.4 743.2,237.1 743.4,239.9"/>
<path class="l" d="M715,208.9C715.7,209.1 717.9,208.6 719.3,210C720.7,211.4 722.5,214.5 723.6,217.5C724.6,220.6 725.2,224.5 725.7,228.2C726.3,232 726.6,238 726.8,239.9"/>
<path class="d" d="M809.3,180L815,186.4"/>
</g>
<g>
<path class="l" d="M498.6,361.9C500.5,361.2 505.8,359.2 510,358C514.2,356.8 518.6,355.6 523.6,354.7C528.6,353.8 535.6,352.8 540,352.3C544.4,351.8 548.3,351.6 550,351.5"/>
<path class="l" d="M502.8,358.8C504.8,358.1 511.2,355.7 515,354.5C518.8,353.3 521.4,352.6 525.6,351.8C529.8,351 535.9,350 540,349.5C544.1,349 548.3,348.8 550,348.6"/>
<path class="m" d="M483,379.6L499.7,355.2"/>
</g>
</g>
<!-- connectors, markers, labels -->
<g id="connectors">
<path class="con" d="M382,142.5 H496.5 V292"/>
<path class="con" d="M356,169.5 H439.5 V260"/>
<path class="con" d="M329,194.5 H424.5 V316"/>
<path class="con" d="M295,427 H497 V366"/>
<path class="con" d="M295,452.8 H570.5 V333"/>
</g>
<g id="markers">
<g transform="translate(439.6,261)"><circle r="4.9" fill="none" stroke="#606060" stroke-width="1.1"/><circle r="2.35" fill="#404040"/></g>
<g transform="translate(497,292.6)"><circle r="4.9" fill="none" stroke="#606060" stroke-width="1.1"/><circle r="2.35" fill="#404040"/></g>
<g transform="translate(424.5,316.5)"><circle r="4.9" fill="none" stroke="#606060" stroke-width="1.1"/><circle r="2.35" fill="#404040"/></g>
<g transform="translate(497.1,365.7)"><circle r="4.9" fill="none" stroke="#606060" stroke-width="1.1"/><circle r="2.35" fill="#404040"/></g>
<g transform="translate(570,333)"><circle r="4.9" fill="none" stroke="#606060" stroke-width="1.1"/><circle r="2.35" fill="#404040"/></g>
</g>
<g id="checks">
<g transform="translate(374.6,142.1)"><circle r="6.3" fill="#3cb64b"/><path d="M-3.1,0.3 L-1,2.4 3.3,-2.1" fill="none" stroke="#fff" stroke-width="1.7" stroke-linecap="round" stroke-linejoin="round"/></g>
<g transform="translate(348.6,168.1)"><circle r="6.3" fill="#3cb64b"/><path d="M-3.1,0.3 L-1,2.4 3.3,-2.1" fill="none" stroke="#fff" stroke-width="1.7" stroke-linecap="round" stroke-linejoin="round"/></g>
<g transform="translate(321.7,194)"><circle r="6.3" fill="#3cb64b"/><path d="M-3.1,0.3 L-1,2.4 3.3,-2.1" fill="none" stroke="#fff" stroke-width="1.7" stroke-linecap="round" stroke-linejoin="round"/></g>
<g transform="translate(287.4,426.9)"><circle r="6.3" fill="#3cb64b"/><path d="M-3.1,0.3 L-1,2.4 3.3,-2.1" fill="none" stroke="#fff" stroke-width="1.7" stroke-linecap="round" stroke-linejoin="round"/></g>
<g transform="translate(287.4,452.4)"><circle r="6.3" fill="#3cb64b"/><path d="M-3.1,0.3 L-1,2.4 3.3,-2.1" fill="none" stroke="#fff" stroke-width="1.7" stroke-linecap="round" stroke-linejoin="round"/></g>
</g>
<g id="labels">
<text class="lbl" x="350.8" y="147.2" text-anchor="end" style="font-size:17.2px;letter-spacing:0.45px">防火墙</text>
<text class="lbl" x="325.8" y="172" text-anchor="end" style="font-size:17.1px">右前减震器悬挂</text>
<text class="lbl" x="296.6" y="199.2" text-anchor="end" style="font-size:17.1px">右前纵梁</text>
<text class="lbl" x="274.3" y="433" text-anchor="end" style="font-size:17.4px">左前纵梁</text>
<text class="lbl" x="274.3" y="458" text-anchor="end" style="font-size:17.4px">左前减震器悬挂</text>
</g>
</svg>
</body>
</html>
